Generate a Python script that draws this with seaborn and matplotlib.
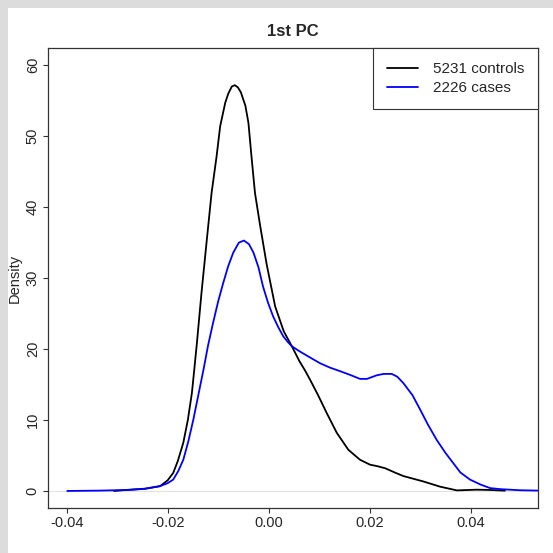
import matplotlib
matplotlib.use("Agg")
import matplotlib.pyplot as plt
import seaborn as sns
from matplotlib.patches import Rectangle

# density curves (x = PC1 score, y = density)
ctrl_x = [-0.0306, -0.0275, -0.0245, -0.0215, -0.0200, -0.0189, -0.0180, -0.0169,
          -0.0160, -0.0152, -0.0147, -0.0142, -0.0133, -0.0123, -0.0113, -0.0103,
          -0.0096, -0.0086, -0.0080, -0.0073, -0.0067, -0.0061, -0.0055, -0.0046,
          -0.0040, -0.0034, -0.0027, -0.0017, -0.0004, 0.0013, 0.0030, 0.0046,
          0.0061, 0.0072, 0.0082, 0.0098, 0.0115, 0.0135, 0.0158, 0.0181, 0.0201,
          0.0215, 0.0231, 0.0250, 0.0267, 0.0306, 0.0340, 0.0373, 0.0412, 0.0439,
          0.0468]
ctrl_y = [0.0, 0.18, 0.32, 0.68, 1.5, 2.54, 4.2, 6.8,
          10.0, 13.8, 17.3, 20.9, 27.9, 35.0, 42.0, 47.2,
          51.4, 54.7, 56.0, 57.0, 57.2, 56.9, 56.2, 54.3,
          51.9, 47.2, 42.0, 37.5, 32.0, 26.0, 22.5, 20.4,
          18.3, 17.0, 15.7, 13.5, 11.0, 8.2, 5.8, 4.4, 3.7,
          3.5, 3.2, 2.6, 2.1, 1.35, 0.6, 0.08, 0.18, 0.14,
          0.04]

case_x = [-0.0399, -0.0334, -0.0275, -0.0245, -0.0215, -0.0200, -0.0189, -0.0179,
          -0.0169, -0.0159, -0.0149, -0.0139, -0.0129, -0.0120, -0.0110, -0.0100,
          -0.0090, -0.0080, -0.0070, -0.0059, -0.0049, -0.0039, -0.0030, -0.0020,
          -0.0011, -0.0001, 0.0009, 0.0019, 0.0029, 0.0038, 0.0046, 0.0061,
          0.0080, 0.0102, 0.0121, 0.0141, 0.0160, 0.0181, 0.0195, 0.0214,
          0.0228, 0.0244, 0.0255, 0.0267, 0.0285, 0.0300, 0.0316, 0.0333,
          0.0350, 0.0366, 0.0380, 0.0399, 0.0420, 0.0439, 0.0460, 0.0498, 0.0535]
case_y = [0.0, 0.05, 0.15, 0.3, 0.68, 1.1, 1.6, 2.8,
          4.4, 7.0, 10.1, 13.6, 17.1, 20.5, 23.7, 26.7,
          29.3, 31.7, 33.6, 35.0, 35.3, 34.8, 33.6, 31.5,
          28.8, 26.5, 24.6, 23.1, 21.8, 21.0, 20.4, 19.7,
          18.9, 18.0, 17.4, 16.9, 16.4, 15.8, 15.8, 16.3,
          16.5, 16.5, 16.1, 15.2, 13.5, 11.5, 9.3, 7.2,
          5.4, 3.9, 2.6, 1.6, 0.9, 0.4, 0.25, 0.1, 0.05]

labels = ["5231 controls", "2226 cases"]
colors = ["black", "#0000ff"]
x_ticks = [-0.04, -0.02, 0.00, 0.02, 0.04]
y_ticks = [0, 10, 20, 30, 40, 50, 60]

sns.set_style("white")
plt.rcParams["font.family"] = ["Liberation Sans", "DejaVu Sans"]
plt.rcParams["axes.unicode_minus"] = False

fig = plt.figure(figsize=(5.53, 5.53), dpi=100, facecolor="#dcdcdc")
# white page with grey strip on top and left
fig.patches.append(Rectangle((8 / 553, 0), 545 / 553, 545 / 553,
                             transform=fig.transFigure, facecolor="white",
                             edgecolor="none", zorder=-10))
ax = fig.add_axes([0.0873, 0.0814, 0.9729 - 0.0873, 0.9127 - 0.0814])

ax.axhline(0, color="#cccccc", lw=0.4, zorder=1)
sns.lineplot(x=ctrl_x, y=ctrl_y, color=colors[0], lw=1.3, label=labels[0], ax=ax)
sns.lineplot(x=case_x, y=case_y, color=colors[1], lw=1.3, label=labels[1], ax=ax)

ax.set_xlim(-0.04365, 0.05337)
ax.set_ylim(-2.4, 62.4)
ax.set_xticks(x_ticks)
ax.set_xticklabels([f"{v:.2f}" for v in x_ticks])
ax.set_yticks(y_ticks)
ax.set_yticklabels([str(v) for v in y_ticks], rotation=90, va="center")
ax.tick_params(axis="both", direction="out", length=3.6, width=0.8,
               color="#333333", labelsize=10.5, bottom=True, left=True)
ax.tick_params(axis="x", pad=2)
ax.tick_params(axis="y", pad=2.5)
for s in ax.spines.values():
    s.set_color("#333333")
    s.set_linewidth(0.9)

ax.set_xlabel("")
ax.set_ylabel("Density", fontsize=10.5, labelpad=3)
ax.set_title("1st PC", fontsize=12, fontweight="bold", pad=9)

leg = ax.legend(loc="upper right", borderaxespad=0, fancybox=False,
                framealpha=1, edgecolor="#333333", fontsize=11,
                handlelength=2.0, handletextpad=1.0, labelspacing=0.35,
                borderpad=0.9)
leg.get_frame().set_linewidth(0.8)

fig.savefig("out.png", dpi=100, facecolor=fig.get_facecolor())
